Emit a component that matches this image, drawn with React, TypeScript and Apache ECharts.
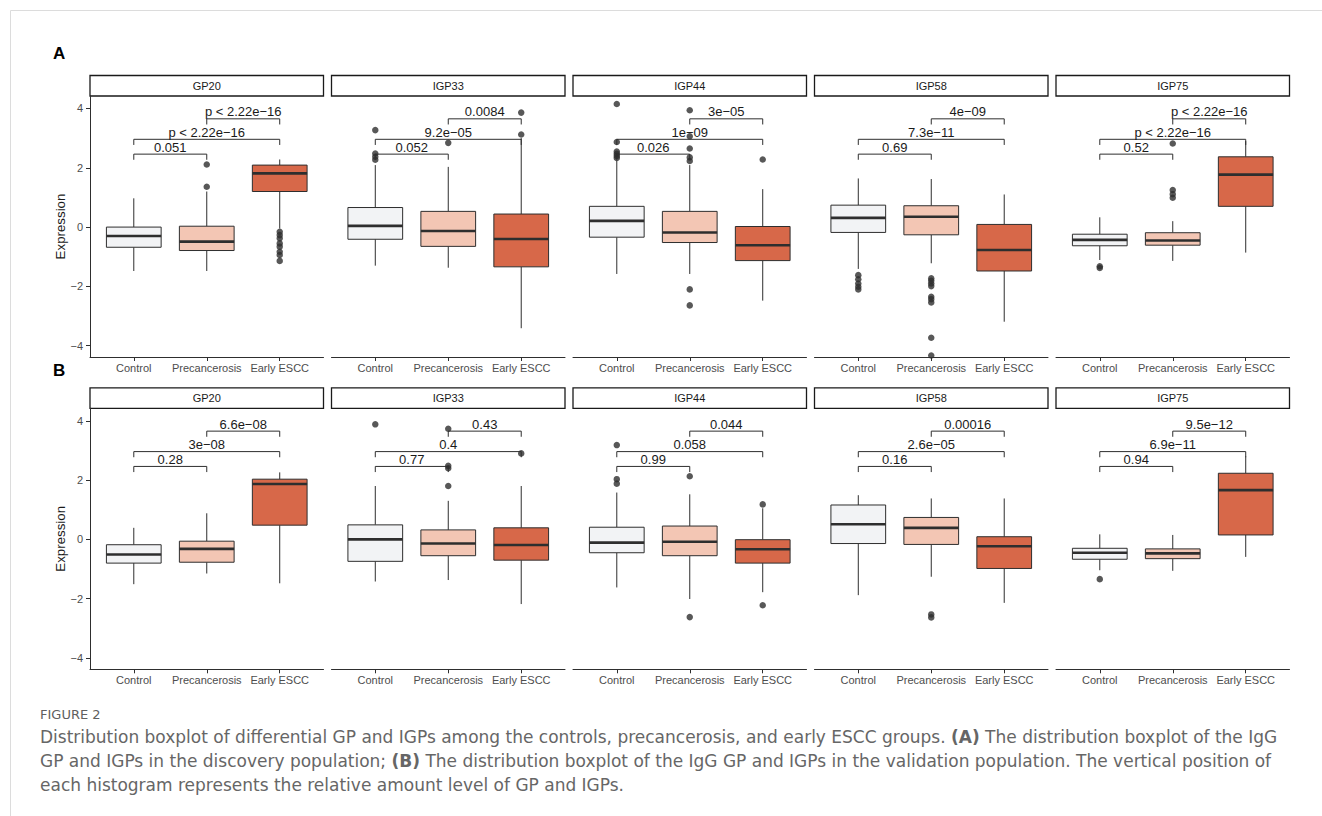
import React, { useEffect, useRef } from "react";
import * as echarts from "echarts";

// ---------- data ----------
const categories = ["Control", "Precancerosis", "Early ESCC"];
const markers = ["GP20", "IGP33", "IGP44", "IGP58", "IGP75"];
const yTicks = [-4, -2, 0, 2, 4];
const bracketPairs = [[1, 2], [1, 3], [2, 3]];
const bracketLevels = [2.46, 2.96, 3.65];

// [min, Q1, median, Q3, max] per category — discovery population (A)
const boxA_GP20 = [[-1.48, -0.68, -0.3, 0.0, 0.97], [-1.48, -0.79, -0.49, 0.03, 1.2], [-0.05, 1.2, 1.81, 2.09, 2.28]];
const boxA_IGP33 = [[-1.3, -0.41, 0.04, 0.66, 2.09], [-1.37, -0.65, -0.13, 0.53, 2.03], [-3.41, -1.34, -0.4, 0.44, 3.0]];
const boxA_IGP44 = [[-1.58, -0.34, 0.21, 0.7, 2.25], [-1.58, -0.52, -0.18, 0.53, 2.09], [-2.48, -1.13, -0.61, 0.02, 1.28]];
const boxA_IGP58 = [[-1.41, -0.18, 0.31, 0.74, 1.64], [-1.22, -0.26, 0.35, 0.72, 1.62], [-3.19, -1.48, -0.77, 0.09, 1.1]];
const boxA_IGP75 = [[-1.11, -0.63, -0.43, -0.24, 0.33], [-1.14, -0.61, -0.45, -0.19, 0.2], [-0.86, 0.7, 1.77, 2.37, 2.9]];

const outA_GP20 = [[], [2.11, 1.36], [-0.16, -0.27, -0.38, -0.55, -0.66, -0.83, -0.94, -1.14]];
const outA_IGP33 = [[3.27, 2.48, 2.37, 2.27], [2.84], [3.12, 3.86]];
const outA_IGP44 = [[4.15, 2.87, 2.55, 2.47, 2.4, 2.33], [3.94, 3.06, 2.65, 2.35, 2.23, -2.1, -2.64], [2.28]];
const outA_IGP58 = [[-1.62, -1.76, -1.9, -2.01, -2.1], [-1.73, -1.81, -1.9, -1.99, -2.35, -2.43, -2.54, -3.73, -4.33], []];
const outA_IGP75 = [[-1.32, -1.38], [2.82, 1.25, 1.11, 0.99], []];

const pA_GP20 = ["0.051", "p < 2.22e−16", "p < 2.22e−16"];
const pA_IGP33 = ["0.052", "9.2e−05", "0.0084"];
const pA_IGP44 = ["0.026", "1e−09", "3e−05"];
const pA_IGP58 = ["0.69", "7.3e−11", "4e−09"];
const pA_IGP75 = ["0.52", "p < 2.22e−16", "p < 2.22e−16"];

// validation population (B)
const boxB_GP20 = [[-1.51, -0.8, -0.51, -0.18, 0.39], [-1.15, -0.77, -0.32, -0.06, 0.88], [-1.48, 0.48, 1.87, 2.03, 2.26]];
const boxB_IGP33 = [[-1.42, -0.74, 0.0, 0.49, 1.8], [-1.37, -0.55, -0.14, 0.32, 1.3], [-2.18, -0.7, -0.19, 0.39, 1.8]];
const boxB_IGP44 = [[-1.62, -0.45, -0.11, 0.41, 1.58], [-2.01, -0.55, -0.08, 0.45, 1.52], [-1.78, -0.8, -0.33, -0.01, 1.05]];
const boxB_IGP58 = [[-1.88, -0.14, 0.51, 1.16, 1.49], [-1.26, -0.17, 0.39, 0.74, 1.38], [-2.14, -0.98, -0.23, 0.09, 1.38]];
const boxB_IGP75 = [[-1.04, -0.67, -0.45, -0.3, 0.17], [-1.06, -0.65, -0.47, -0.32, 0.15], [-0.59, 0.15, 1.66, 2.23, 2.8]];

const outB_GP20 = [[], [], []];
const outB_IGP33 = [[3.88], [3.73, 2.48, 2.4, 1.8], [2.9]];
const outB_IGP44 = [[3.18, 2.03, 1.88], [2.13, -2.62], [1.18, -2.22]];
const outB_IGP58 = [[], [-2.53, -2.63], []];
const outB_IGP75 = [[-1.34], [], []];

const pB_GP20 = ["0.28", "3e−08", "6.6e−08"];
const pB_IGP33 = ["0.77", "0.4", "0.43"];
const pB_IGP44 = ["0.99", "0.058", "0.044"];
const pB_IGP58 = ["0.16", "2.6e−05", "0.00016"];
const pB_IGP75 = ["0.94", "6.9e−11", "9.5e−12"];

const boxesA = [boxA_GP20, boxA_IGP33, boxA_IGP44, boxA_IGP58, boxA_IGP75];
const boxesB = [boxB_GP20, boxB_IGP33, boxB_IGP44, boxB_IGP58, boxB_IGP75];
const outsA = [outA_GP20, outA_IGP33, outA_IGP44, outA_IGP58, outA_IGP75];
const outsB = [outB_GP20, outB_IGP33, outB_IGP44, outB_IGP58, outB_IGP75];
const pvalsA = [pA_GP20, pA_IGP33, pA_IGP44, pA_IGP58, pA_IGP75];
const pvalsB = [pB_GP20, pB_IGP33, pB_IGP44, pB_IGP58, pB_IGP75];

// ---------- styles ----------
const fills = ["#f2f3f5", "#f3c6b4", "#d76849"];
const ink = "#2e2e2e";
const FONT = "'Liberation Sans', Arial, sans-serif";
const CAPFONT = "'DejaVu Sans', 'Noto Sans', sans-serif";
const panelLeft0 = 90;
const panelStep = 241.5;
const panelWidth = 233.5;
const panelTops = [96, 408.3];
const panelHeight = 261;
const yMin = -4.38;
const yMax = 4.42;
const tipLen = 0.19;

function buildOption() {
  const grid: any[] = [];
  const xAxis: any[] = [];
  const yAxis: any[] = [];
  const series: any[] = [];
  const graphic: any[] = [];

  const pops = [
    { boxes: boxesA, outs: outsA, pvals: pvalsA },
    { boxes: boxesB, outs: outsB, pvals: pvalsB },
  ];

  pops.forEach((pop, pi) => {
    markers.forEach((m, fi) => {
      const gi = grid.length;
      const left = panelLeft0 + fi * panelStep;
      const top = panelTops[pi];
      grid.push({ left, top, width: panelWidth, height: panelHeight });
      xAxis.push({
        type: "value",
        gridIndex: gi,
        min: 0.4,
        max: 3.6,
        splitLine: { show: false },
        axisLine: { show: true, onZero: false, lineStyle: { color: ink, width: 1 } },
        axisTick: { show: true, length: 4, customValues: [1, 2, 3], lineStyle: { color: ink } },
        axisLabel: {
          show: true,
          customValues: [1, 2, 3],
          formatter: (v: number) => categories[Math.round(v) - 1] || "",
          fontSize: 11,
          color: "#4d4d4d",
          fontFamily: FONT,
          margin: 5,
        },
      });
      const first = fi === 0;
      yAxis.push({
        type: "value",
        gridIndex: gi,
        min: yMin,
        max: yMax,
        show: first,
        splitLine: { show: false },
        axisLine: { show: first, onZero: false, lineStyle: { color: ink, width: 1 } },
        axisTick: { show: first, length: 4, customValues: yTicks, lineStyle: { color: ink } },
        axisLabel: {
          show: first,
          customValues: yTicks,
          formatter: (v: number) => (v < 0 ? "−" + Math.abs(v) : String(v)),
          fontSize: 11,
          color: "#4d4d4d",
          fontFamily: FONT,
          margin: 7,
        },
        name: first ? "Expression" : "",
        nameLocation: "middle",
        nameRotate: 90,
        nameGap: 22,
        nameTextStyle: { fontSize: 13.3, color: "#1a1a1a", fontFamily: FONT },
      });

      // boxes
      const boxData = pop.boxes[fi].map((b, ci) => [ci + 1, b[0], b[1], b[2], b[3], b[4], ci]);
      series.push({
        type: "custom",
        xAxisIndex: gi,
        yAxisIndex: gi,
        data: boxData,
        z: 2,
        renderItem: (params: any, api: any) => {
          const x = api.value(0);
          const lo = api.coord([x, api.value(1)]);
          const q1 = api.coord([x, api.value(2)]);
          const med = api.coord([x, api.value(3)]);
          const q3 = api.coord([x, api.value(4)]);
          const hi = api.coord([x, api.value(5)]);
          const halfW = api.size([0.75, 0])[0] / 2;
          const ci = api.value(6);
          return {
            type: "group",
            children: [
              { type: "line", shape: { x1: lo[0], y1: lo[1], x2: q1[0], y2: q1[1] }, style: { stroke: ink, lineWidth: 1 } },
              { type: "line", shape: { x1: q3[0], y1: q3[1], x2: hi[0], y2: hi[1] }, style: { stroke: ink, lineWidth: 1 } },
              {
                type: "rect",
                shape: { x: q3[0] - halfW, y: q3[1], width: 2 * halfW, height: q1[1] - q3[1] },
                style: { fill: fills[ci], stroke: ink, lineWidth: 1 },
              },
              {
                type: "line",
                shape: { x1: med[0] - halfW, y1: med[1], x2: med[0] + halfW, y2: med[1] },
                style: { stroke: ink, lineWidth: 2.6 },
              },
            ],
          };
        },
      });

      // outliers
      const outData: number[][] = [];
      pop.outs[fi].forEach((arr, ci) => arr.forEach((v) => outData.push([ci + 1, v])));
      series.push({
        type: "scatter",
        xAxisIndex: gi,
        yAxisIndex: gi,
        data: outData,
        symbolSize: 6.5,
        itemStyle: { color: ink },
        z: 3,
      });

      // significance brackets
      const labels = pop.pvals[fi];
      const brData = bracketPairs.map((p, i) => [p[0], p[1], bracketLevels[i], i]);
      series.push({
        type: "custom",
        xAxisIndex: gi,
        yAxisIndex: gi,
        data: brData,
        z: 4,
        renderItem: (params: any, api: any) => {
          const x1 = api.value(0);
          const x2 = api.value(1);
          const y = api.value(2);
          const i = api.value(3);
          const a = api.coord([x1, y - tipLen]);
          const b = api.coord([x1, y]);
          const c = api.coord([x2, y]);
          const d = api.coord([x2, y - tipLen]);
          return {
            type: "group",
            children: [
              {
                type: "polyline",
                shape: { points: [a, b, c, d] },
                style: { stroke: ink, lineWidth: 1, fill: null },
              },
              {
                type: "text",
                x: (b[0] + c[0]) / 2,
                y: b[1] - 0.5,
                style: {
                  text: labels[i],
                  fontSize: 13,
                  fontFamily: FONT,
                  fill: "#1a1a1a",
                  align: "center",
                  verticalAlign: "bottom",
                },
              },
            ],
          };
        },
      });

      // facet strip
      graphic.push({
        type: "rect",
        shape: { x: left, y: top - 20.5, width: panelWidth, height: 20.5 },
        style: { fill: "#ffffff", stroke: "#1a1a1a", lineWidth: 1.3 },
      });
      graphic.push({
        type: "text",
        x: left + panelWidth / 2,
        y: top - 10.2,
        style: { text: m, fontSize: 11, fontFamily: FONT, fill: "#1a1a1a", align: "center", verticalAlign: "middle" },
      });
    });
  });

  // frame, panel letters, caption
  graphic.push({
    type: "rect",
    shape: { x: 10.5, y: 10.5, width: 1400, height: 1000 },
    style: { fill: null, stroke: "#dcdcdc", lineWidth: 1 },
  });
  graphic.push({ type: "text", x: 53, y: 53, style: { text: "A", fontSize: 17, fontWeight: "bold", fontFamily: FONT, fill: "#000", verticalAlign: "middle" } });
  graphic.push({ type: "text", x: 53, y: 370, style: { text: "B", fontSize: 17, fontWeight: "bold", fontFamily: FONT, fill: "#000", verticalAlign: "middle" } });
  graphic.push({ type: "text", x: 40, y: 714, style: { text: "FIGURE 2", fontSize: 13, fontFamily: CAPFONT, fill: "#606060", verticalAlign: "middle" } });
  const capLines = [
    "Distribution boxplot of differential GP and IGPs among the controls, precancerosis, and early ESCC groups. {b|(A)} The distribution boxplot of the IgG",
    "GP and IGPs in the discovery population; {b|(B)} The distribution boxplot of the IgG GP and IGPs in the validation population. The vertical position of",
    "each histogram represents the relative amount level of GP and IGPs.",
  ];
  capLines.forEach((t, i) => {
    graphic.push({
      type: "text",
      x: 40,
      y: 737 + i * 24,
      style: {
        text: t,
        fontSize: 17,
        fontFamily: CAPFONT,
        fill: "#666666",
        verticalAlign: "middle",
        rich: { b: { fontSize: 17, fontFamily: CAPFONT, fontWeight: "bold", fill: "#666666" } },
      },
    });
  });

  return { animation: false, backgroundColor: "#ffffff", grid, xAxis, yAxis, series, graphic };
}

export default function App() {
  const ref = useRef<HTMLDivElement>(null);
  useEffect(() => {
    if (!ref.current) return;
    const chart = echarts.init(ref.current, undefined, { renderer: "svg" });
    chart.setOption(buildOption() as any);
    return () => chart.dispose();
  }, []);
  return (
    <div
      ref={ref}
      style={{ position: "fixed", left: 0, top: 0, width: 1322, height: 816, background: "#fff" }}
    />
  );
}
